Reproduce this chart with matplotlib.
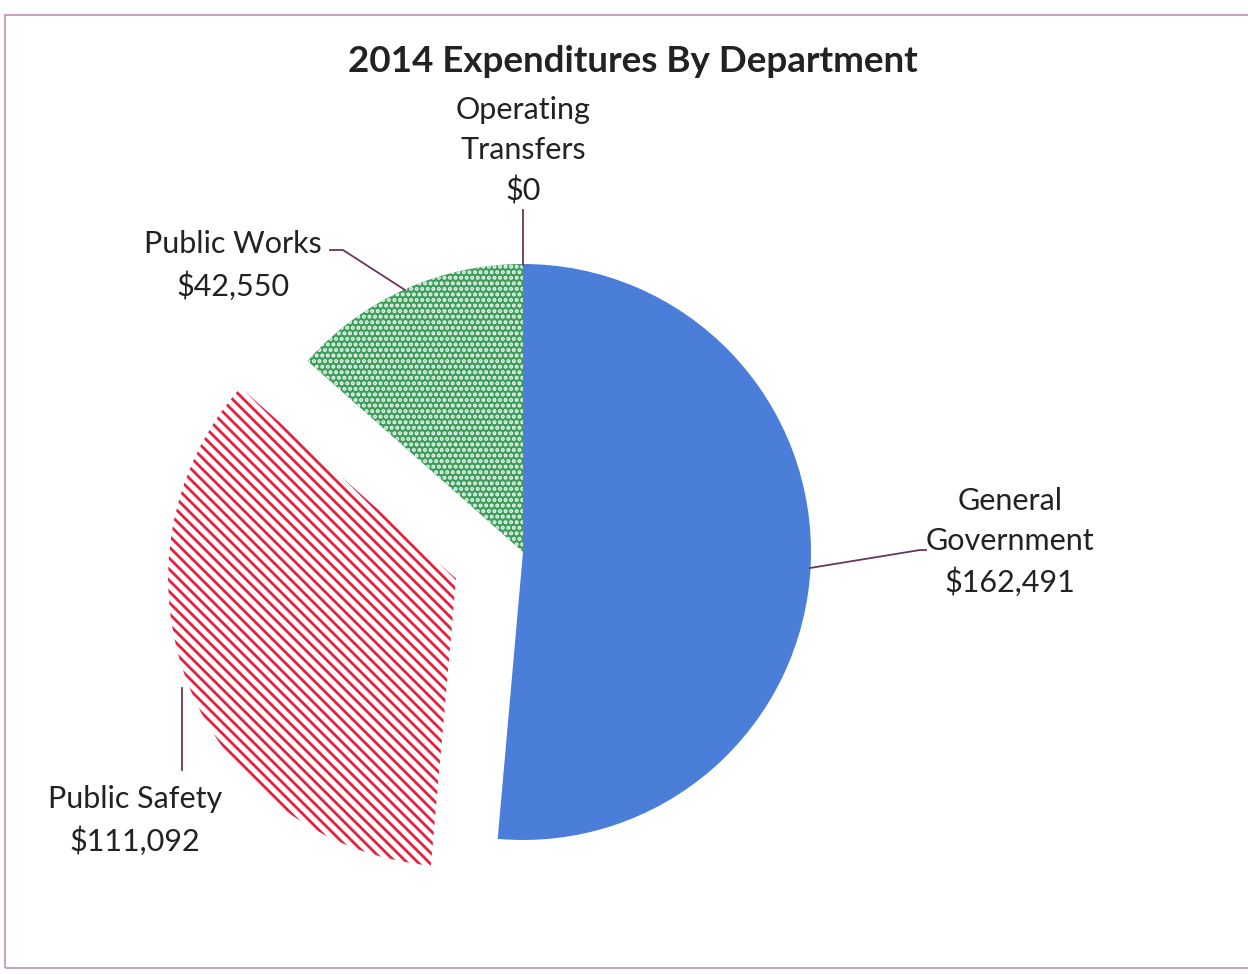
import matplotlib.pyplot as plt
from matplotlib.patches import Rectangle

# data
departments = ['General\nGovernment', 'Public Safety', 'Public Works', 'Operating\nTransfers']
amounts = [162491, 111092, 42550, 0]
colors = ['#4a7ed9', 'white', '#3d9d5b', 'white']
hatches = [None, '\\\\\\', '...', None]
hatch_colors = ['#4a7ed9', '#e8203e', '#f4fbf6', 'white']
explode = [0, 72, 0, 0]

W, H = 1248, 974


def money(v):
    return f"${v:,.0f}"


def plot():
    plt.rcParams['font.family'] = ['Lato', 'DejaVu Sans']
    plt.rcParams['hatch.linewidth'] = 2.0

    fig = plt.figure(figsize=(W / 100, H / 100), dpi=100)
    ax = fig.add_axes([0, 0, 1, 1])

    cx, cy, r = 523, H - 552, 288
    wedges, _ = ax.pie(amounts, colors=colors, startangle=90, counterclock=False,
                       explode=explode, center=(cx, cy), radius=r,
                       wedgeprops=dict(linewidth=0))
    for w, h, hc in zip(wedges, hatches, hatch_colors):
        if h:
            w.set_hatch(h)
            w.set_edgecolor(hc)
            w.set_linewidth(0)

    # pie() resets the limits, so set them afterwards
    ax.set_xlim(0, W)
    ax.set_ylim(0, H)
    ax.set_aspect('equal')
    ax.axis('off')

    # outer frame
    fig.patches.append(Rectangle((5 / W, 6 / H), 1.2, 953 / H, transform=fig.transFigure,
                                 fill=False, edgecolor='#c9a3bd', linewidth=1.5))

    ax.text(W * 0.5075, H - 61, '2014 Expenditures By Department', ha='center', va='center',
            fontsize=26.5, fontweight='bold', color='#222222')

    kw = dict(ha='center', va='center', fontsize=22, color='#222222', linespacing=1.52)
    ax.text(523, H - 151, departments[3] + '\n' + money(amounts[3]), **kw)
    ax.text(233, H - 265, departments[2] + '\n' + money(amounts[2]), **kw)
    ax.text(1010, H - 542, departments[0] + '\n' + money(amounts[0]), **kw)
    ax.text(135, H - 820, departments[1] + '\n' + money(amounts[1]), **kw)

    lc = dict(color='#6a3558', linewidth=1.3)
    ax.plot([523, 523], [H - 210, H - 265], **lc)
    ax.plot([330, 343, 405], [H - 250, H - 250, H - 290], **lc)
    ax.plot([810, 920, 926], [H - 568, H - 550, H - 550], **lc)
    ax.plot([182, 182], [H - 688, H - 770], **lc)

    fig.savefig('out.png', dpi=100, facecolor='white')


if __name__ == "__main__":
    plot()
